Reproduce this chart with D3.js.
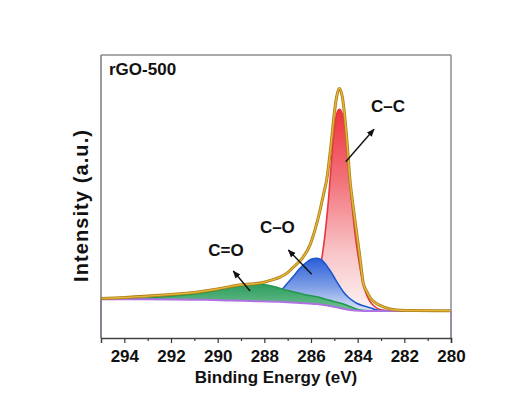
<!DOCTYPE html>
<html>
<head>
<meta charset="utf-8">
<script src="https://cdn.jsdelivr.net/npm/d3@7"></script>
<style>
  html, body { margin: 0; padding: 0; background: #ffffff; }
  svg { display: block; font-family: "Liberation Sans", Arial, sans-serif; }
</style>
</head>
<body>
<svg id="chart" width="512" height="397"></svg>
<script>
// C 1s spectrum of rGO-500: fitted envelope, three components and Shirley background
const sampleName = "rGO-500";

const envelopeEV = [295, 294, 293, 292, 291, 290, 289.34, 289, 288.6, 288.19, 287.6, 287.33, 287, 286.76, 286.5, 286.33, 286.04, 285.83, 285.61, 285.47, 285.33, 285.15, 285.0, 284.9, 284.79, 284.66, 284.57, 284.44, 284.33, 284.23, 284.06, 283.9, 283.76, 283.6, 283.47, 283.25, 283.04, 282.7, 282.33, 281.5, 280];
const envelopeI  = [14.0, 14.3, 14.8, 15.4, 16.1, 17.3, 18.4, 18.8, 19.1, 19.4, 20.7, 21.5, 23.1, 25.0, 27.0, 28.7, 32.9, 38.2, 45.2, 50.5, 55.8, 67.6, 79.5, 85.3, 88.2, 85.3, 79.5, 67.6, 55.8, 48.8, 38.2, 28.3, 19.4, 16.3, 14.3, 12.5, 11.5, 10.4, 9.9, 9.7, 9.65];

const ccEV = [286.8, 286.4, 286.1, 285.9, 285.7, 285.55, 285.4, 285.26, 285.15, 285.05, 284.94, 284.85, 284.78, 284.7, 284.61, 284.5, 284.4, 284.3, 284.2, 284.1, 283.97, 283.8, 283.65, 283.5, 283.3, 283.0, 282.6, 282.0, 280];
const ccI  = [12.6, 13.4, 15.0, 17.3, 21.5, 27.5, 36.5, 48.0, 59.5, 70.0, 77.5, 80.3, 80.8, 80.1, 77.6, 71.0, 61.5, 52.0, 43.5, 36.0, 28.5, 20.5, 16.0, 13.3, 11.3, 10.0, 9.6, 9.55, 9.54];

const coEV = [287.7, 287.4, 287.19, 286.95, 286.76, 286.55, 286.33, 286.15, 285.97, 285.76, 285.6, 285.47, 285.3, 285.11, 284.95, 284.76, 284.6, 284.4, 284.2, 284.04, 283.8, 283.61, 283.3, 283.0, 282.5, 280];
const coI  = [13.2, 15.5, 17.6, 19.9, 21.7, 23.9, 25.8, 27.0, 27.9, 28.2, 27.8, 27.0, 25.2, 22.9, 20.6, 18.1, 16.2, 14.4, 13.1, 12.3, 11.5, 11.06, 10.2, 9.7, 9.56, 9.54];

const cdoEV = [295, 294, 293, 292, 291, 290, 289.34, 289, 288.6, 288.19, 287.6, 287.2, 286.8, 286.3, 285.75, 285.2, 284.61, 284.2, 283.9, 283.5, 280];
const cdoI  = [13.68, 13.75, 14.1, 14.8, 15.6, 16.9, 18.1, 18.5, 18.9, 19.0, 18.2, 17.2, 16.4, 15.4, 14.6, 13.3, 12.0, 10.7, 9.9, 9.6, 9.54];

const bgEV = [295, 292, 290.5, 289.5, 288.6, 287.2, 286.5, 285.75, 285.3, 284.9, 284.6, 284.33, 283.9, 283.5, 280];
const bgI  = [13.68, 13.62, 13.5, 13.25, 13.05, 12.72, 12.4, 12.0, 11.5, 10.85, 10.3, 9.9, 9.6, 9.54, 9.54];

// axis ticks
const majorTicks = [294, 292, 290, 288, 286, 284, 282, 280];
const minorTicks = [293, 291, 289, 287, 285, 283, 281];

// peak annotations: label anchor and arrow (tail -> head), in data units
const peakLabels  = ["C\u2013C", "C\u2013O", "C=O"];
const labelEV     = [283.43, 288.19, 290.4];
const labelI      = [79.9, 37.0, 29.0];
const arrowFromEV = [284.51, 285.97, 288.61];
const arrowFromI  = [62.3, 22.5, 16.6];
const arrowToEV   = [283.3, 286.97, 289.33];
const arrowToI    = [73.75, 31.1, 23.67];

const svg = d3.select("#chart");
const plotLeft = 101, plotRight = 451, plotTop = 55, plotBottom = 338;

const x = d3.scaleLinear().domain([295, 280]).range([plotLeft, plotRight]);
const y = d3.scaleLinear().domain([0, 100]).range([plotBottom, plotTop]);

const zip = (a, b) => a.map((v, i) => [v, b[i]]);
const envelope = zip(envelopeEV, envelopeI);
const cc = zip(ccEV, ccI);
const co = zip(coEV, coI);
const cdo = zip(cdoEV, cdoI);
const bg = zip(bgEV, bgI);

const line = d3.line().x(d => x(d[0])).y(d => y(d[1])).curve(d3.curveMonotoneX);
const straight = d3.line().x(d => x(d[0])).y(d => y(d[1]));

// closed area between a component and the background under it
function areaPath(pts) {
  const start = pts[0][0];
  const under = bg.filter(d => d[0] < start).reverse();
  under.push(pts[0]);
  return line(pts) + "L" + straight(under).slice(1) + "Z";
}

const defs = svg.append("defs");
function grad(id, stops) {
  const g = defs.append("linearGradient").attr("id", id)
    .attr("x1", 0).attr("y1", 0).attr("x2", 0).attr("y2", 1);
  stops.forEach(([o, c]) => g.append("stop").attr("offset", o).attr("stop-color", c));
}
grad("gCC", [["0%", "#ee3440"], ["35%", "#f2727a"], ["70%", "#f8c3c6"], ["100%", "#fdf3f3"]]);
grad("gCO", [["0%", "#2a5dd8"], ["55%", "#7f9fe6"], ["100%", "#dfe6f9"]]);
grad("gCdO", [["0%", "#2f9c5c"], ["100%", "#6fc393"]]);

defs.append("marker").attr("id", "arrowHead")
  .attr("viewBox", "0 0 10 10").attr("refX", 9).attr("refY", 5)
  .attr("markerUnits", "userSpaceOnUse")
  .attr("markerWidth", 8).attr("markerHeight", 8).attr("orient", "auto")
  .append("path").attr("d", "M0,1 L10,5 L0,9 Z").attr("fill", "#111");

// components
svg.append("path").attr("d", areaPath(cc)).attr("fill", "url(#gCC)");
svg.append("path").attr("d", line(cc)).attr("fill", "none").attr("stroke", "#e8353e").attr("stroke-width", 1.6);

svg.append("path").attr("d", areaPath(co)).attr("fill", "url(#gCO)");
svg.append("path").attr("d", line(co)).attr("fill", "none").attr("stroke", "#1d58cf").attr("stroke-width", 1.6);

svg.append("path").attr("d", areaPath(cdo)).attr("fill", "url(#gCdO)");
svg.append("path").attr("d", line(cdo)).attr("fill", "none").attr("stroke", "#23984f").attr("stroke-width", 1.6);

// Shirley background, closed down to the axis at both ends
const bgStroke = "#b072e2";
svg.append("path").attr("d", line(bg)).attr("fill", "none").attr("stroke", bgStroke).attr("stroke-width", 2);
[bg[0], bg[bg.length - 1]].forEach(d => {
  svg.append("line").attr("x1", x(d[0])).attr("x2", x(d[0]))
    .attr("y1", y(d[1])).attr("y2", y(0))
    .attr("stroke", bgStroke).attr("stroke-width", 1.5);
});

// fitted envelope
svg.append("path").attr("d", line(envelope)).attr("fill", "none")
  .attr("stroke", "#b07f14").attr("stroke-width", 3);
svg.append("path").attr("d", line(envelope)).attr("fill", "none")
  .attr("stroke", "#e2b53c").attr("stroke-width", 1.4);

// frame
svg.append("line").attr("x1", plotLeft).attr("x2", plotRight).attr("y1", plotTop).attr("y2", plotTop)
  .attr("stroke", "#8c8c8c").attr("stroke-width", 1.5);
svg.append("line").attr("x1", plotRight).attr("x2", plotRight).attr("y1", plotTop).attr("y2", plotBottom)
  .attr("stroke", "#8c8c8c").attr("stroke-width", 1.5);
svg.append("line").attr("x1", plotLeft).attr("x2", plotLeft).attr("y1", plotTop).attr("y2", plotBottom)
  .attr("stroke", "#7a7a7a").attr("stroke-width", 1.5);

// x axis
const gMinor = svg.append("g").attr("transform", `translate(0,${plotBottom})`)
  .call(d3.axisBottom(x).tickValues(minorTicks).tickSize(3).tickFormat(""));
gMinor.select(".domain").remove();
gMinor.selectAll(".tick line").attr("stroke", "#333").attr("stroke-width", 1.2);

const gMajor = svg.append("g").attr("transform", `translate(0,${plotBottom})`)
  .call(d3.axisBottom(x).tickValues(majorTicks).tickSize(5).tickPadding(7).tickFormat(d3.format("d")));
gMajor.select(".domain").attr("stroke", "#444").attr("stroke-width", 1.5);
gMajor.selectAll(".tick line").attr("stroke", "#333").attr("stroke-width", 1.2);
gMajor.selectAll(".tick text")
  .attr("font-family", "'Liberation Sans', Arial, sans-serif")
  .attr("font-size", 17).attr("font-weight", "bold").attr("fill", "#111");

// axis titles
svg.append("text").attr("x", (plotLeft + plotRight) / 2).attr("y", 382.5)
  .attr("text-anchor", "middle").attr("font-size", 17).attr("font-weight", "bold").attr("fill", "#111")
  .text("Binding Energy (eV)");
svg.append("text").attr("transform", `translate(88,${206}) rotate(-90)`)
  .attr("text-anchor", "middle").attr("font-size", 20).attr("font-weight", "bold").attr("fill", "#111")
  .attr("textLength", 152).attr("lengthAdjust", "spacing")
  .text("Intensity (a.u.)");

// sample name
svg.append("text").attr("x", plotLeft + 8).attr("y", plotTop + 20)
  .attr("font-size", 17).attr("font-weight", "bold").attr("fill", "#111").text(sampleName);

// peak labels and arrows
peakLabels.forEach((t, i) => {
  svg.append("line")
    .attr("x1", x(arrowFromEV[i])).attr("y1", y(arrowFromI[i]))
    .attr("x2", x(arrowToEV[i])).attr("y2", y(arrowToI[i]))
    .attr("stroke", "#111").attr("stroke-width", 1.4)
    .attr("marker-end", "url(#arrowHead)");
  svg.append("text").attr("x", x(labelEV[i])).attr("y", y(labelI[i]))
    .attr("font-size", 17).attr("font-weight", "bold").attr("fill", "#111").text(t);
});
</script>
</body>
</html>
